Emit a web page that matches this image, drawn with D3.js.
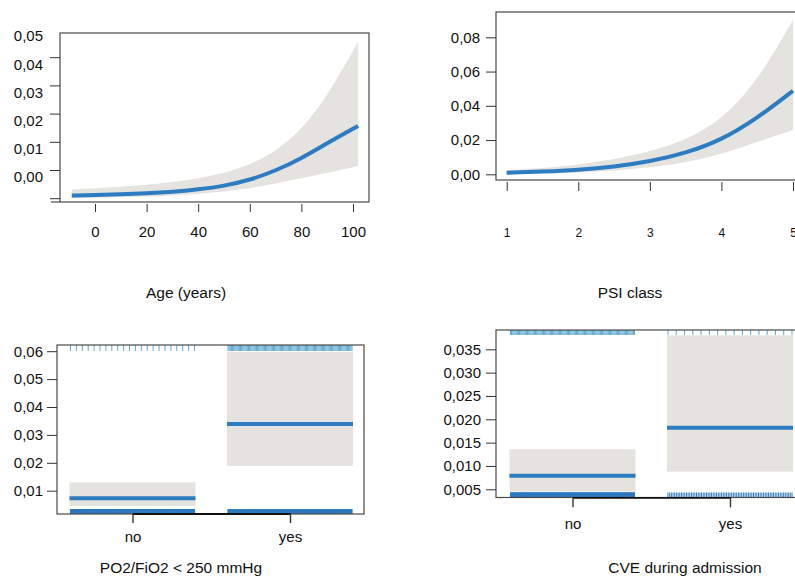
<!DOCTYPE html>
<meta charset="utf-8">
<style>
body { margin: 0; background: #fff; }
svg { font-family: "Liberation Sans", Arial, sans-serif; }
.box { fill: none; stroke: #4a4a4a; stroke-width: 1.2px; }
.band { fill: #e4e3e0; stroke: none; }
.fit { fill: none; stroke: #2d7cc1; stroke-width: 4px; }
.axis text { font-size: 15px; fill: #111; }
.axis line { stroke: #333; }
.small text { font-size: 12px; }
.cat .domain { stroke: #111; stroke-width: 1.8px; }
.cat line { stroke: #333; stroke-width: 1.4px; }
.title { font-size: 15.5px; fill: #111; text-anchor: middle; }
.rugTop { stroke: #5fa9cf; stroke-width: 1px; }
.rugBottom { stroke: #2f79be; stroke-width: 1px; }
</style>
<body>
<script src="https://d3js.org/d3.v7.min.js"></script>
<script>

// ---- data ----
var ageX     = [-9, 0, 10, 20, 30, 40, 50, 60, 70, 80, 90, 102];
var ageFit   = [-0.0066, -0.0064, -0.0061, -0.0058, -0.0053, -0.0044, -0.0032, -0.0011, 0.0022, 0.0066, 0.0120, 0.0181];
var ageUpper = [-0.0044, -0.0040, -0.0035, -0.0028, -0.0018, -0.0005, 0.0013, 0.0043, 0.0090, 0.0167, 0.0285, 0.0480];
var ageLower = [-0.0076, -0.0074, -0.0072, -0.0070, -0.0066, -0.0060, -0.0052, -0.0040, -0.0023, -0.0005, 0.0015, 0.0039];
var ageTicks = [0, 20, 40, 60, 80, 100];
var ageYLabels = [0, 0.01, 0.02, 0.03, 0.04, 0.05];
var ageYTicks = [-0.01, 0, 0.01, 0.02, 0.03, 0.04];

var psiX     = [1, 1.5, 2, 2.5, 3, 3.5, 4, 4.5, 5];
var psiFit   = [0.0009, 0.0015, 0.0025, 0.0044, 0.0074, 0.0123, 0.0200, 0.0327, 0.0488];
var psiUpper = [0.0025, 0.0035, 0.0054, 0.0088, 0.0132, 0.0200, 0.0317, 0.0541, 0.0901];
var psiLower = [0.0000, 0.0004, 0.0009, 0.0021, 0.0039, 0.0068, 0.0117, 0.0190, 0.0259];
var psiTicks = [1, 2, 3, 4, 5];
var psiYTicks = [0, 0.02, 0.04, 0.06, 0.08];

var groups = ["no", "yes"];

var po2Fit   = [0.0073, 0.0339];
var po2Lower = [0.0045, 0.0189];
var po2Upper = [0.0130, 0.0598];
var po2YTicks = [0.01, 0.02, 0.03, 0.04, 0.05, 0.06];
var po2RugTop = [22, 110];
var po2RugBottom = [400, 400];

var cveFit   = [0.0079, 0.0182];
var cveLower = [0.0045, 0.0088];
var cveUpper = [0.0136, 0.0380];
var cveYTicks = [0.005, 0.010, 0.015, 0.020, 0.025, 0.030, 0.035];
var cveRugTop = [110, 16];
var cveRugBottom = [400, 75];

// ---- setup ----
var loc = d3.formatLocale({decimal: ",", thousands: ".", grouping: [3], currency: ["", ""]});
var f2 = loc.format(".2f"), f3 = loc.format(".3f");

var svg = d3.select("body").append("svg")
	.attr("width", 795)
	.attr("height", 577);

function noDomain(g) { g.select(".domain").remove(); }

function drawBox(b) {
	svg.append("rect").attr("class", "box")
		.attr("x", b[0]).attr("y", b[1])
		.attr("width", b[2] - b[0]).attr("height", b[3] - b[1]);
}

function curvePanel(xs, fit, lo, hi, x, y) {
	var rows = xs.map(function(v, i) { return {x: v, fit: fit[i], lo: lo[i], hi: hi[i]}; });
	svg.append("path").datum(rows).attr("class", "band")
		.attr("d", d3.area().curve(d3.curveBasis)
			.x(function(d) { return x(d.x); })
			.y0(function(d) { return y(d.lo); })
			.y1(function(d) { return y(d.hi); }));
	svg.append("path").datum(rows).attr("class", "fit")
		.attr("d", d3.line().curve(d3.curveBasis)
			.x(function(d) { return x(d.x); })
			.y(function(d) { return y(d.fit); }));
}

function groupPanel(box, x, y, half, fit, lo, hi, rugTop, rugBottom, topLen) {
	svg.selectAll(null).data(groups).enter().append("rect")
		.attr("class", "band")
		.attr("x", function(d) { return x(d) - half; })
		.attr("width", 2 * half)
		.attr("y", function(d, i) { return y(hi[i]); })
		.attr("height", function(d, i) { return y(lo[i]) - y(hi[i]); });
	svg.selectAll(null).data(groups).enter().append("line")
		.attr("class", "fit")
		.attr("x1", function(d) { return x(d) - half; })
		.attr("x2", function(d) { return x(d) + half; })
		.attr("y1", function(d, i) { return y(fit[i]); })
		.attr("y2", function(d, i) { return y(fit[i]); });

	// rug marks: events along the top, non-events along the bottom
	groups.forEach(function(gname, i) {
		var spread = function(n) {
			var s = d3.scaleLinear().domain([0, n - 1]).range([x(gname) - half + 1, x(gname) + half - 1]);
			return d3.range(n).map(s);
		};
		svg.selectAll(null).data(spread(rugTop[i])).enter().append("line")
			.attr("class", "rugTop")
			.attr("x1", function(d) { return d; }).attr("x2", function(d) { return d; })
			.attr("y1", box[1]).attr("y2", box[1] + topLen);
		svg.selectAll(null).data(spread(rugBottom[i])).enter().append("line")
			.attr("class", "rugBottom")
			.attr("x1", function(d) { return d; }).attr("x2", function(d) { return d; })
			.attr("y1", box[3] - 5).attr("y2", box[3]);
	});
}

// ---- panel A: age ----
var boxA = [60, 33, 369, 202];
var xA = d3.scaleLinear().domain([0, 100]).range([95, 353]);
var yA = d3.scaleLinear().domain([0, 0.05]).range([177, 36]);
curvePanel(ageX, ageFit, ageLower, ageUpper, xA, yA);
drawBox(boxA);
svg.append("line").attr("class", "box").attr("x1", 51).attr("x2", 60).attr("y1", 202).attr("y2", 202);
svg.append("g").attr("class", "axis").attr("transform", "translate(60,0)")
	.call(d3.axisLeft(yA).tickValues(ageYLabels).tickSize(0).tickPadding(17).tickFormat(f2))
	.call(noDomain);
svg.append("g").attr("class", "axis").attr("transform", "translate(60,-7)")
	.call(d3.axisLeft(yA).tickValues(ageYTicks).tickSize(10).tickFormat(""))
	.call(noDomain);
svg.append("g").attr("class", "axis").attr("transform", "translate(0,204)")
	.call(d3.axisBottom(xA).tickValues(ageTicks).tickSize(8).tickPadding(14))
	.call(noDomain);
svg.append("text").attr("class", "title").attr("x", 186).attr("y", 298).text("Age (years)");

// ---- panel B: PSI class ----
var boxB = [496, 12, 802, 180];
var xB = d3.scaleLinear().domain([1, 5]).range([506.7, 793]);
var yB = d3.scaleLinear().domain([0, 0.08]).range([174.3, 37.3]);
curvePanel(psiX, psiFit, psiLower, psiUpper, xB, yB);
drawBox(boxB);
svg.append("g").attr("class", "axis").attr("transform", "translate(496,0)")
	.call(d3.axisLeft(yB).tickValues(psiYTicks).tickSize(10).tickPadding(6).tickFormat(f2))
	.call(noDomain);
svg.append("g").attr("class", "axis small").attr("transform", "translate(0,182)")
	.call(d3.axisBottom(xB).tickValues(psiTicks).tickSize(9).tickPadding(37).tickFormat(d3.format("d")))
	.call(noDomain);
svg.append("text").attr("class", "title").attr("x", 630).attr("y", 298).text("PSI class");

// ---- panel C: PO2/FiO2 ----
var boxC = [57, 345, 364, 514];
var xC = d3.scalePoint().domain(groups).range([132.5, 290]);
var yC = d3.scaleLinear().domain([0.01, 0.06]).range([490.7, 351.2]);
groupPanel(boxC, xC, yC, 63, po2Fit, po2Lower, po2Upper, po2RugTop, po2RugBottom, 6);
drawBox(boxC);
svg.append("g").attr("class", "axis").attr("transform", "translate(57,0)")
	.call(d3.axisLeft(yC).tickValues(po2YTicks).tickSize(10).tickPadding(4).tickFormat(f2))
	.call(noDomain);
svg.append("g").attr("class", "axis cat").attr("transform", "translate(0,513.5)")
	.call(d3.axisBottom(xC).tickSize(9.5).tickSizeOuter(0).tickPadding(8.5));
svg.append("text").attr("class", "title").attr("x", 181).attr("y", 573).text("PO2/FiO2 < 250 mmHg");

// ---- panel D: CVE during admission ----
var boxD = [496, 330, 802, 497.5];
var xD = d3.scalePoint().domain(groups).range([572.5, 730]);
var yD = d3.scaleLinear().domain([0.005, 0.035]).range([489.3, 349.3]);
groupPanel(boxD, xD, yD, 63, cveFit, cveLower, cveUpper, cveRugTop, cveRugBottom, 5);
drawBox(boxD);
svg.append("g").attr("class", "axis").attr("transform", "translate(496,0)")
	.call(d3.axisLeft(yD).tickValues(cveYTicks).tickSize(10).tickPadding(5).tickFormat(f3))
	.call(noDomain);
svg.append("g").attr("class", "axis cat").attr("transform", "translate(0,497.3)")
	.call(d3.axisBottom(xD).tickSize(10).tickSizeOuter(0).tickPadding(11));
svg.append("text").attr("class", "title").attr("x", 685).attr("y", 573).text("CVE during admission");

</script>
